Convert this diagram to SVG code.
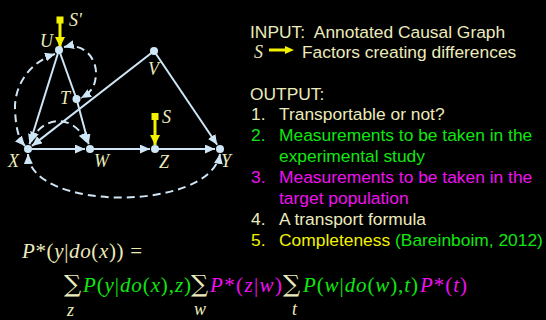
<svg xmlns="http://www.w3.org/2000/svg" width="546" height="320" viewBox="0 0 546 320">
<style>
.e{stroke:#cfe6f6;stroke-width:2;fill:none}
.d{stroke:#cfe6f6;stroke-width:2;fill:none;stroke-dasharray:8 5}
.n{fill:#cfe6f6}
.lbl{font-family:"Liberation Serif",serif;font-style:italic;font-size:18px;fill:#ecebbc}
.t{font-family:"Liberation Sans",Arial,sans-serif;font-size:17.4px;fill:#ecebbc}
.f{font-family:"Liberation Serif",serif;font-size:21px;fill:#ecebbc}
.s{font-family:"DejaVu Serif",serif;font-size:24px;fill:#ecebbc}
.i{font-style:italic}
.g{fill:#11e611}
.m{fill:#f010f0}
.y{fill:#f2f200}
</style>
<defs>
<marker id="a" markerUnits="userSpaceOnUse" markerWidth="10" markerHeight="9" refX="10" refY="4.5" orient="auto"><path d="M0,0 L10,4.5 L0,9 z" fill="#cfe6f6"/></marker>
<marker id="ad" markerUnits="userSpaceOnUse" markerWidth="10" markerHeight="9" refX="10" refY="4.5" orient="auto-start-reverse"><path d="M0,0 L10,4.5 L0,9 z" fill="#cfe6f6"/></marker>
<marker id="ay" markerUnits="userSpaceOnUse" markerWidth="10" markerHeight="10" refX="10" refY="5" orient="auto"><path d="M0,0 L10,5 L0,10 z" fill="#f2f200"/></marker>
</defs>
<rect width="546" height="320" fill="#000"/>
<g id="connectors">
<line class="e" x1="59" y1="50" x2="29.5" y2="144.2" marker-end="url(#a)"/>
<line class="e" x1="59" y1="50" x2="76.5" y2="99"/>
<line class="e" x1="76.5" y1="99" x2="88.7" y2="144.2" marker-end="url(#a)"/>
<line class="e" x1="154" y1="51" x2="31.9" y2="145.9" marker-end="url(#a)"/>
<line class="e" x1="154" y1="51" x2="217.2" y2="144.8" marker-end="url(#a)"/>
<line class="e" x1="28" y1="149" x2="85" y2="149" marker-end="url(#a)"/>
<line class="e" x1="90" y1="149" x2="150" y2="149" marker-end="url(#a)"/>
<line class="e" x1="155" y1="149" x2="215" y2="149" marker-end="url(#a)"/>
<path class="d" d="M64,47 C85,42 97,60 96,75 C95,88 90,93 81,98" marker-start="url(#ad)" marker-end="url(#ad)"/>
<path class="d" d="M55,54 C30,62 14,85 15,110 C16,128 18,138 25,146" marker-start="url(#ad)" marker-end="url(#ad)"/>
<path class="d" d="M31,142 C40,118 72,110 87,143" marker-start="url(#ad)" marker-end="url(#ad)"/>
<path class="d" d="M28,154 C30,212 210,212 220,154" marker-start="url(#ad)" marker-end="url(#ad)"/>
<rect x="56.5" y="16.5" width="7" height="7" fill="#f2f200"/>
<line x1="60" y1="23" x2="60" y2="47" stroke="#f2f200" stroke-width="3" marker-end="url(#ay)"/>
<rect x="151.5" y="113" width="7" height="7" fill="#f2f200"/>
<line x1="155" y1="119" x2="155" y2="145" stroke="#f2f200" stroke-width="3" marker-end="url(#ay)"/>
</g>
<g id="U"><circle class="n" cx="59" cy="50" r="4"/><text class="lbl" x="40" y="47">U</text></g>
<g id="Sp"><text class="lbl" x="69" y="26">S'</text></g>
<g id="T"><circle class="n" cx="76.5" cy="99" r="4"/><text class="lbl" x="60" y="104">T</text></g>
<g id="V"><circle class="n" cx="154" cy="51" r="4"/><text class="lbl" x="148" y="75">V</text></g>
<g id="X"><circle class="n" cx="28" cy="149" r="4"/><text class="lbl" x="8" y="167">X</text></g>
<g id="W"><circle class="n" cx="90" cy="149" r="4"/><text class="lbl" x="94" y="167">W</text></g>
<g id="Z"><circle class="n" cx="155" cy="149" r="4"/><text class="lbl" x="159" y="168">Z</text></g>
<g id="Y"><circle class="n" cx="220" cy="149" r="4"/><text class="lbl" x="221" y="167">Y</text></g>
<g id="S"><text class="lbl" x="162" y="123">S</text></g>
<g id="text">
<text class="t" x="250" y="38" xml:space="preserve">INPUT:  Annotated Causal Graph</text>
<text class="lbl" x="254" y="58">S</text>
<line x1="269" y1="50" x2="286" y2="50" stroke="#f2f200" stroke-width="3"/>
<path d="M285,46 L294,50 L285,54 z" fill="#f2f200"/>
<text class="t" x="302" y="58">Factors creating differences</text>
<text class="t" x="250" y="100">OUTPUT:</text>
<text class="t" x="251" y="120">1.</text><text class="t" x="279" y="120">Transportable or not?</text>
<text class="t g" x="251" y="141">2.</text><text class="t g" x="279" y="141">Measurements to be taken in the</text>
<text class="t g" x="279" y="162">experimental study</text>
<text class="t m" x="251" y="183">3.</text><text class="t m" x="279" y="183">Measurements to be taken in the</text>
<text class="t m" x="279" y="204">target population</text>
<text class="t" x="251" y="225">4.</text><text class="t" x="279" y="225">A transport formula</text>
<text class="t y" x="251" y="246">5.</text><text class="t y" x="279" y="246">Completeness <tspan class="g">(Bareinboim, 2012)</tspan></text>
</g>
<g id="formula">
<text class="f" x="22" y="258" textLength="120" lengthAdjust="spacing"><tspan class="i">P</tspan>*(<tspan class="i">y</tspan>|<tspan class="i">do</tspan>(<tspan class="i">x</tspan>)) =</text>
<text class="s" x="64" y="292">∑</text>
<text class="f g" x="83" y="292" textLength="108" lengthAdjust="spacing"><tspan class="i">P</tspan>(<tspan class="i">y</tspan>|<tspan class="i">do</tspan>(<tspan class="i">x</tspan>),<tspan class="i">z</tspan>)</text>
<text class="s" x="191" y="292">∑</text>
<text class="f m" x="210" y="292" textLength="72" lengthAdjust="spacing"><tspan class="i">P</tspan>*(<tspan class="i">z</tspan>|<tspan class="i">w</tspan>)</text>
<text class="s" x="283" y="292">∑</text>
<text class="f g" x="303" y="292" textLength="115" lengthAdjust="spacing"><tspan class="i">P</tspan>(<tspan class="i">w</tspan>|<tspan class="i">do</tspan>(<tspan class="i">w</tspan>),<tspan class="i">t</tspan>)</text>
<text class="f m" x="420" y="292" textLength="47" lengthAdjust="spacing"><tspan class="i">P</tspan>*(<tspan class="i">t</tspan>)</text>
<text class="f i" x="67" y="316" style="font-size:18px">z</text>
<text class="f i" x="194" y="315" style="font-size:18px">w</text>
<text class="f i" x="292" y="315" style="font-size:18px">t</text>
</g>
</svg>
